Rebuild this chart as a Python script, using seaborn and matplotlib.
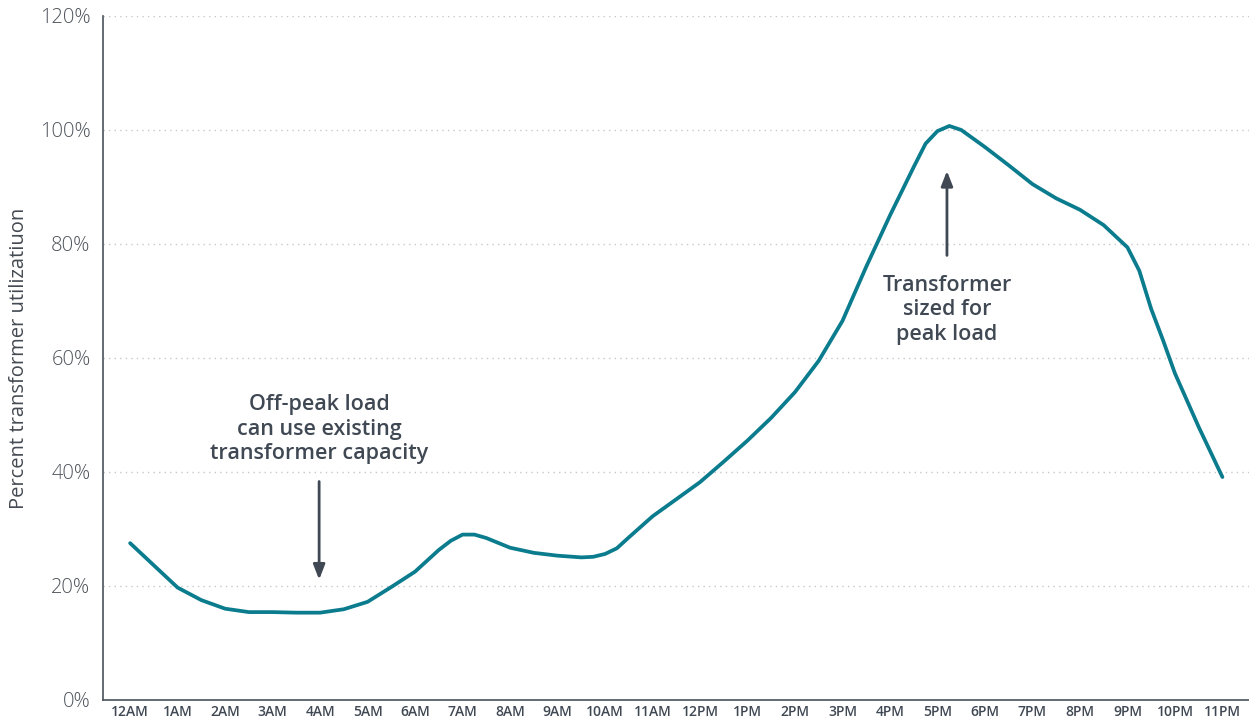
# transformer_load.py
# daily transformer utilization profile

import pandas as pd
import matplotlib.pyplot as plt
import seaborn as sns

# -----------------------------
# data (half-hour steps, quarter-hours at the bends)
# -----------------------------
hours = [0, 0.5, 1, 1.5, 2, 2.5, 3, 3.5, 4, 4.5, 5, 5.5, 6, 6.5, 6.75, 7,
         7.25, 7.5, 8, 8.5, 9, 9.5, 9.75, 10, 10.25, 10.5, 11, 11.5, 12,
         12.5, 13, 13.5, 14, 14.5, 15, 15.5, 16, 16.5, 16.75, 17, 17.25,
         17.5, 18, 18.5, 19, 19.5, 20, 20.5, 21, 21.25, 21.5, 21.75, 22,
         22.5, 23]
utilization = [27.5, 23.6, 19.7, 17.5, 16.0, 15.4, 15.4, 15.3, 15.3, 15.9,
               17.2, 19.8, 22.5, 26.3, 27.9, 29.0, 29.0, 28.4, 26.7, 25.8,
               25.3, 25.0, 25.1, 25.6, 26.6, 28.5, 32.2, 35.2, 38.2, 41.8,
               45.5, 49.5, 54.0, 59.5, 66.5, 76.0, 85.0, 93.5, 97.6, 99.8,
               100.7, 100.0, 97.0, 93.8, 90.5, 88.0, 86.0, 83.3, 79.4, 75.3,
               68.6, 63.1, 57.3, 47.9, 39.1]
tick_labels = ["12AM", "1AM", "2AM", "3AM", "4AM", "5AM", "6AM", "7AM", "8AM",
               "9AM", "10AM", "11AM", "12PM", "1PM", "2PM", "3PM", "4PM",
               "5PM", "6PM", "7PM", "8PM", "9PM", "10PM", "11PM"]
y_ticks = [0, 20, 40, 60, 80, 100, 120]

df = pd.DataFrame({"hour": hours, "util": utilization})

sns.set_style("white")
plt.rcParams["font.family"] = ["Open Sans", "DejaVu Sans"]

text_col = "#3f4853"
line_col = "#0b7c8e"

fig = plt.figure(figsize=(12.49, 7.26), dpi=100)
ax = fig.add_axes([0.0825, 0.036, 0.9175, 0.942])

sns.lineplot(data=df, x="hour", y="util", color=line_col, linewidth=2.7, ax=ax)
ax.lines[0].set_solid_joinstyle("round")
ax.lines[0].set_solid_capstyle("round")

ax.set_xlim(-0.57, 23.56)
ax.set_ylim(0, 120)
ax.set_xticks(range(24))
ax.set_xticklabels(tick_labels, fontsize=10, color=text_col, fontweight="semibold")
ax.set_yticks(y_ticks)
ax.set_yticklabels([f"{v}%" for v in y_ticks], fontsize=14.5, color="#4e545b",
                   fontweight="light")
ax.tick_params(axis="both", length=0, pad=4)
ax.tick_params(axis="y", pad=9)

for v in y_ticks[1:]:
    ax.axhline(v, color="#c8c8c8", linestyle=(0, (1, 3)), linewidth=1, zorder=0)

ax.set_xlabel("")
ax.set_ylabel("Percent transformer utilizatiuon", fontsize=14.5, color="#444a52",
              labelpad=8)

for s in ["top", "right"]:
    ax.spines[s].set_visible(False)
for s in ["left", "bottom"]:
    ax.spines[s].set_color("#4a525b")
    ax.spines[s].set_linewidth(1.2)

# -----------------------------
# annotations
# -----------------------------
arrow_kw = dict(arrowstyle="-|>,head_width=0.35,head_length=0.9", color="#3f4853", lw=2)
ax.annotate("", xy=(3.98, 20.6), xytext=(3.98, 38.8), arrowprops=arrow_kw)
ax.text(3.98, 53.6, "Off-peak load\ncan use existing\ntransformer capacity",
        ha="center", va="top", fontsize=15.5, color=text_col, fontweight="semibold",
        linespacing=1.2)

ax.annotate("", xy=(17.2, 93.3), xytext=(17.2, 77.5), arrowprops=arrow_kw)
ax.text(17.2, 74.5, "Transformer\nsized for\npeak load",
        ha="center", va="top", fontsize=15.5, color=text_col, fontweight="semibold",
        linespacing=1.2)

plt.savefig("out.png", dpi=100)
